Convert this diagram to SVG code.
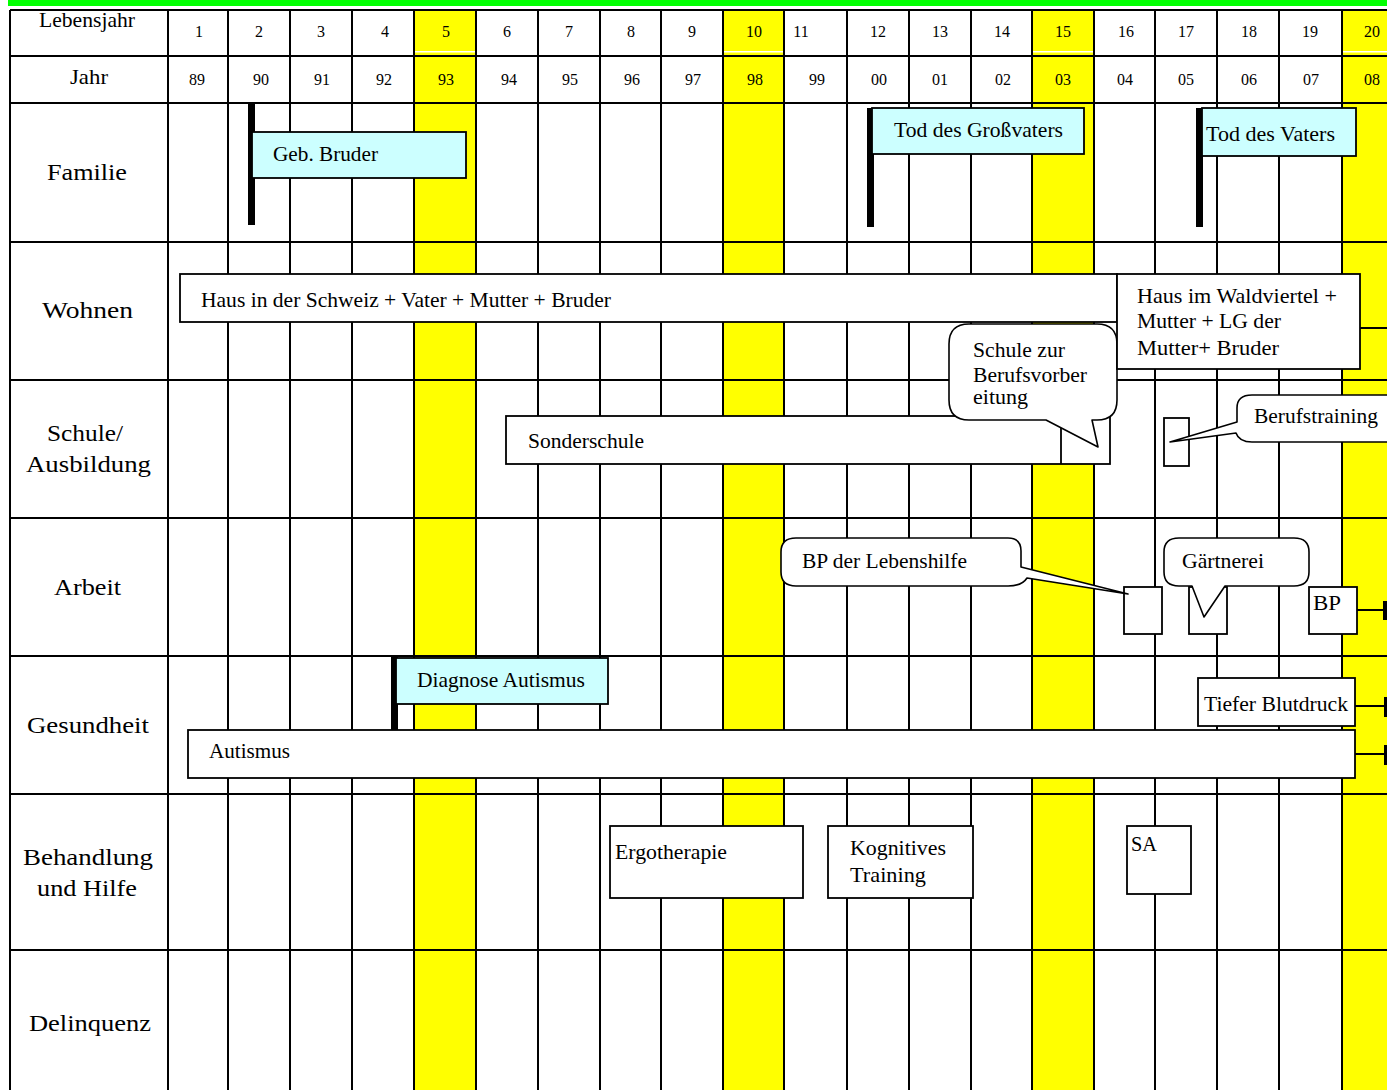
<svg xmlns="http://www.w3.org/2000/svg" width="1387" height="1090" viewBox="0 0 1387 1090">
<style>
.t{font-family:"Liberation Serif","Times New Roman",serif;fill:#000}
.num{font-size:16px;text-anchor:middle}
.hd{font-size:21px;text-anchor:middle}
.lbl{font-size:24px;text-anchor:middle}
.tx{font-size:21px}
.gl{stroke:#000;stroke-width:2;fill:none}
.box{fill:#fff;stroke:#000;stroke-width:1.8}
.ev{fill:#ccffff;stroke:#000;stroke-width:1.8}
.bar{fill:#000}
.bub{fill:#fff;stroke:#000;stroke-width:1.6;stroke-linejoin:round}
.cn{stroke:#000;stroke-width:1.8;fill:none}
</style>
<rect x="0" y="0" width="1387" height="1090" fill="#fff"/>
<rect x="8" y="0" width="1379" height="6" fill="#00ff00"/>
<g id="yellow">
<rect x="414" y="10" width="62" height="1080" fill="#ffff00"/>
<rect x="723" y="10" width="61" height="1080" fill="#ffff00"/>
<rect x="1032" y="10" width="62" height="1080" fill="#ffff00"/>
<rect x="1342" y="10" width="62" height="1080" fill="#ffff00"/>
<g fill="#fff"><rect x="415" y="51" width="60" height="1.5"/><rect x="724" y="51" width="59" height="1.5"/><rect x="1033" y="51" width="60" height="1.5"/><rect x="1343" y="51" width="44" height="1.5"/></g>
</g>
<g id="grid" class="gl">
<path d="M10 10H1387M10 56H1387M10 103H1387M10 242H1387M10 380H1387M10 518H1387M10 656H1387M10 794H1387M10 950H1387"/>
<path d="M10 10V1090M168 10V1090M228 10V1090M290 10V1090M352 10V1090M414 10V1090M476 10V1090M538 10V1090M600 10V1090M661 10V1090M723 10V1090M784 10V1090M847 10V1090M909 10V1090M971 10V1090M1032 10V1090M1094 10V1090M1155 10V1090M1217 10V1090M1279 10V1090M1342 10V1090"/>
</g>
<g id="header" class="t">
<text class="hd" x="87" y="27" textLength="96" lengthAdjust="spacingAndGlyphs">Lebensjahr</text>
<text class="hd" x="89" y="84" textLength="38" lengthAdjust="spacingAndGlyphs">Jahr</text>
<g class="num">
<text x="199" y="37">1</text><text x="259" y="37">2</text><text x="321" y="37">3</text><text x="385" y="37">4</text><text x="446" y="37">5</text><text x="507" y="37">6</text><text x="569" y="37">7</text><text x="631" y="37">8</text><text x="692" y="37">9</text><text x="754" y="37">10</text><text x="801" y="37">11</text><text x="878" y="37">12</text><text x="940" y="37">13</text><text x="1002" y="37">14</text><text x="1063" y="37">15</text><text x="1126" y="37">16</text><text x="1186" y="37">17</text><text x="1249" y="37">18</text><text x="1310" y="37">19</text><text x="1372" y="37">20</text>
<text x="197" y="85">89</text><text x="261" y="85">90</text><text x="322" y="85">91</text><text x="384" y="85">92</text><text x="446" y="85">93</text><text x="509" y="85">94</text><text x="570" y="85">95</text><text x="632" y="85">96</text><text x="693" y="85">97</text><text x="755" y="85">98</text><text x="817" y="85">99</text><text x="879" y="85">00</text><text x="940" y="85">01</text><text x="1003" y="85">02</text><text x="1063" y="85">03</text><text x="1125" y="85">04</text><text x="1186" y="85">05</text><text x="1249" y="85">06</text><text x="1311" y="85">07</text><text x="1372" y="85">08</text>
</g>
</g>
<g id="rowlabels" class="t lbl">
<text class="lbl" x="87" y="180" textLength="80" lengthAdjust="spacingAndGlyphs">Familie</text>
<text class="lbl" x="87.5" y="318" textLength="91" lengthAdjust="spacingAndGlyphs">Wohnen</text>
<text class="lbl" x="85" y="441" textLength="76" lengthAdjust="spacingAndGlyphs">Schule/</text>
<text class="lbl" x="88.5" y="472" textLength="125" lengthAdjust="spacingAndGlyphs">Ausbildung</text>
<text class="lbl" x="87.5" y="595" textLength="67" lengthAdjust="spacingAndGlyphs">Arbeit</text>
<text class="lbl" x="88" y="733" textLength="122" lengthAdjust="spacingAndGlyphs">Gesundheit</text>
<text class="lbl" x="88" y="865" textLength="130" lengthAdjust="spacingAndGlyphs">Behandlung</text>
<text class="lbl" x="87" y="896" textLength="100" lengthAdjust="spacingAndGlyphs">und Hilfe</text>
<text class="lbl" x="90" y="1031" textLength="122" lengthAdjust="spacingAndGlyphs">Delinquenz</text>
</g>
<g id="connectors">
<path class="cn" d="M1360 328H1387M1357 610H1387M1355 706H1387M1355 754H1387"/>
<rect class="bar" x="1383" y="601" width="4" height="19"/>
<rect class="bar" x="1384" y="697" width="3" height="20"/>
<rect class="bar" x="1384" y="745" width="3" height="20"/>
</g>
<g id="geb-bruder">
<rect class="bar" x="248" y="104" width="7" height="121"/>
<rect class="ev" x="252" y="132" width="214" height="46"/>
<text class="t tx" x="273" y="161" textLength="105" lengthAdjust="spacingAndGlyphs">Geb. Bruder</text>
</g>
<g id="tod-grossvater">
<rect class="bar" x="867" y="108" width="7" height="119"/>
<rect class="ev" x="872" y="108" width="212" height="46"/>
<text class="t tx" x="894" y="137" textLength="169" lengthAdjust="spacingAndGlyphs">Tod des Großvaters</text>
</g>
<g id="tod-vater">
<rect class="bar" x="1196" y="108" width="7" height="119"/>
<rect class="ev" x="1202" y="108" width="154" height="48"/>
<text class="t tx" x="1206" y="141" textLength="129" lengthAdjust="spacingAndGlyphs">Tod des Vaters</text>
</g>
<g id="haus-schweiz">
<rect class="box" x="180" y="274" width="937" height="48"/>
<text class="t tx" x="201" y="307" textLength="410" lengthAdjust="spacingAndGlyphs">Haus in der Schweiz + Vater + Mutter + Bruder</text>
</g>
<g id="sonderschule">
<rect class="box" x="506" y="416" width="604" height="48"/>
<path class="cn" d="M1061 416V464"/>
<text class="t tx" x="528" y="448" textLength="116" lengthAdjust="spacingAndGlyphs">Sonderschule</text>
</g>
<g id="schule-berufsvorbereitung">
<path class="bub" d="M969 324H1097Q1117 324 1117 344V400Q1117 420 1097 420H1092L1098 447L1046 420H969Q949 420 949 400V344Q949 324 969 324Z"/>
<text class="t tx" x="973" y="357" textLength="92" lengthAdjust="spacingAndGlyphs">Schule zur</text>
<text class="t tx" x="973" y="382" textLength="114" lengthAdjust="spacingAndGlyphs">Berufsvorber</text>
<text class="t tx" x="973" y="404" textLength="55" lengthAdjust="spacingAndGlyphs">eitung</text>
</g>
<g id="haus-waldviertel">
<rect class="box" x="1117" y="274" width="243" height="95"/>
<text class="t tx" x="1137" y="303" textLength="200" lengthAdjust="spacingAndGlyphs">Haus im Waldviertel +</text>
<text class="t tx" x="1137" y="328" textLength="144" lengthAdjust="spacingAndGlyphs">Mutter + LG der</text>
<text class="t tx" x="1137" y="355" textLength="142" lengthAdjust="spacingAndGlyphs">Mutter+ Bruder</text>
</g>
<g id="berufstraining">
<rect class="box" x="1164" y="418" width="25" height="48"/>
<path class="bub" d="M1252 395H1400V442H1252Q1239 442 1236 433L1170 442L1237 422V408Q1237 395 1252 395Z"/>
<text class="t tx" x="1254" y="423" textLength="124" lengthAdjust="spacingAndGlyphs">Berufstraining</text>
</g>
<g id="bp-lebenshilfe">
<rect class="box" x="1124" y="587" width="38" height="47"/>
<path class="bub" d="M796 538H1008Q1021 538 1021 551V567L1128 594L1027 578Q1022 586 1008 586H796Q781 586 781 572V552Q781 538 796 538Z"/>
<text class="t tx" x="802" y="568" textLength="165" lengthAdjust="spacingAndGlyphs">BP der Lebenshilfe</text>
</g>
<g id="gaertnerei">
<rect class="box" x="1189" y="587" width="38" height="47"/>
<path class="bub" d="M1179 538H1294Q1309 538 1309 552V572Q1309 586 1294 586H1225L1204 617L1192 586H1179Q1164 586 1164 572V552Q1164 538 1179 538Z"/>
<text class="t tx" x="1182" y="568" textLength="82" lengthAdjust="spacingAndGlyphs">Gärtnerei</text>
</g>
<g id="bp">
<rect class="box" x="1309" y="587" width="48" height="47"/>
<text class="t tx" x="1313" y="610" textLength="28" lengthAdjust="spacingAndGlyphs">BP</text>
</g>
<g id="diagnose-autismus">
<rect class="bar" x="391" y="656" width="7" height="74"/>
<rect class="ev" x="396" y="658" width="212" height="46"/>
<text class="t tx" x="417" y="687" textLength="168" lengthAdjust="spacingAndGlyphs">Diagnose Autismus</text>
</g>
<g id="tiefer-blutdruck">
<rect class="box" x="1198" y="678" width="157" height="48"/>
<text class="t tx" x="1204" y="711" textLength="144" lengthAdjust="spacingAndGlyphs">Tiefer Blutdruck</text>
</g>
<g id="autismus">
<rect class="box" x="188" y="730" width="1167" height="48"/>
<text class="t tx" x="209" y="758" textLength="81" lengthAdjust="spacingAndGlyphs">Autismus</text>
</g>
<g id="ergotherapie">
<rect class="box" x="610" y="826" width="193" height="72"/>
<text class="t tx" x="615" y="859" textLength="112" lengthAdjust="spacingAndGlyphs">Ergotherapie</text>
</g>
<g id="kognitives-training">
<rect class="box" x="828" y="826" width="145" height="72"/>
<text class="t tx" x="850" y="855" textLength="96" lengthAdjust="spacingAndGlyphs">Kognitives</text>
<text class="t tx" x="850" y="882" textLength="76" lengthAdjust="spacingAndGlyphs">Training</text>
</g>
<g id="sa">
<rect class="box" x="1127" y="826" width="64" height="68"/>
<text class="t tx" x="1131" y="851" textLength="26" lengthAdjust="spacingAndGlyphs">SA</text>
</g>
</svg>
